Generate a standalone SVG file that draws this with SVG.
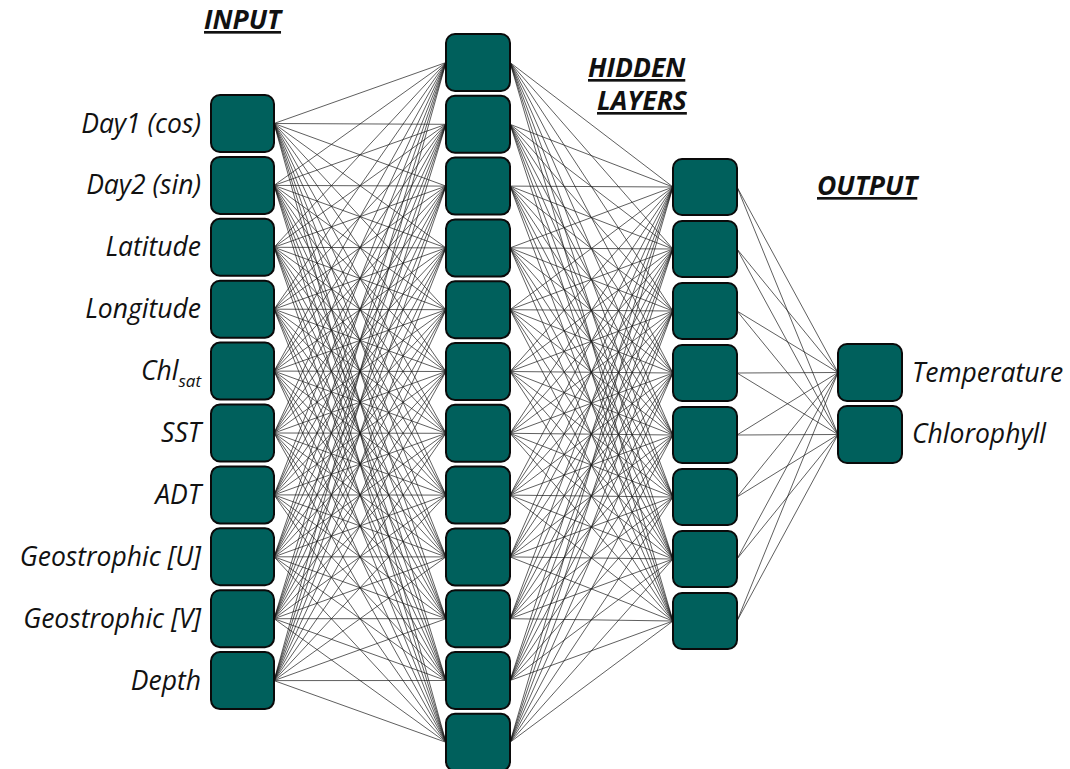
<svg xmlns="http://www.w3.org/2000/svg" width="1070" height="769" viewBox="0 0 1070 769">
<style>
.n{fill:#00605C;stroke:#0a0a0a;stroke-width:2}
.c{fill:none;stroke:#1a1a1a;stroke-width:0.7}
.l{font-family:"Open Sans","Liberation Sans",sans-serif;font-style:italic;font-size:26.5px;fill:#111}
.le{text-anchor:end}
.h{font-family:"Open Sans","Liberation Sans",sans-serif;font-style:italic;font-weight:bold;font-size:26.5px;fill:#111;text-decoration:underline}
</style>
<rect width="1070" height="769" fill="#fff"/>
<g id="connectors" class="c">
<path d="M274 123.5L446 62.5M274 123.5L446 124.3M274 123.5L446 186.1M274 123.5L446 247.9M274 123.5L446 309.7M274 123.5L446 371.5M274 123.5L446 433.3M274 123.5L446 495.1M274 123.5L446 556.9M274 123.5L446 618.7M274 123.5L446 680.5M274 123.5L446 742.3"/>
<path d="M274 185.4L446 62.5M274 185.4L446 124.3M274 185.4L446 186.1M274 185.4L446 247.9M274 185.4L446 309.7M274 185.4L446 371.5M274 185.4L446 433.3M274 185.4L446 495.1M274 185.4L446 556.9M274 185.4L446 618.7M274 185.4L446 680.5M274 185.4L446 742.3"/>
<path d="M274 247.3L446 62.5M274 247.3L446 124.3M274 247.3L446 186.1M274 247.3L446 247.9M274 247.3L446 309.7M274 247.3L446 371.5M274 247.3L446 433.3M274 247.3L446 495.1M274 247.3L446 556.9M274 247.3L446 618.7M274 247.3L446 680.5M274 247.3L446 742.3"/>
<path d="M274 309.2L446 62.5M274 309.2L446 124.3M274 309.2L446 186.1M274 309.2L446 247.9M274 309.2L446 309.7M274 309.2L446 371.5M274 309.2L446 433.3M274 309.2L446 495.1M274 309.2L446 556.9M274 309.2L446 618.7M274 309.2L446 680.5M274 309.2L446 742.3"/>
<path d="M274 371.1L446 62.5M274 371.1L446 124.3M274 371.1L446 186.1M274 371.1L446 247.9M274 371.1L446 309.7M274 371.1L446 371.5M274 371.1L446 433.3M274 371.1L446 495.1M274 371.1L446 556.9M274 371.1L446 618.7M274 371.1L446 680.5M274 371.1L446 742.3"/>
<path d="M274 433L446 62.5M274 433L446 124.3M274 433L446 186.1M274 433L446 247.9M274 433L446 309.7M274 433L446 371.5M274 433L446 433.3M274 433L446 495.1M274 433L446 556.9M274 433L446 618.7M274 433L446 680.5M274 433L446 742.3"/>
<path d="M274 494.9L446 62.5M274 494.9L446 124.3M274 494.9L446 186.1M274 494.9L446 247.9M274 494.9L446 309.7M274 494.9L446 371.5M274 494.9L446 433.3M274 494.9L446 495.1M274 494.9L446 556.9M274 494.9L446 618.7M274 494.9L446 680.5M274 494.9L446 742.3"/>
<path d="M274 556.8L446 62.5M274 556.8L446 124.3M274 556.8L446 186.1M274 556.8L446 247.9M274 556.8L446 309.7M274 556.8L446 371.5M274 556.8L446 433.3M274 556.8L446 495.1M274 556.8L446 556.9M274 556.8L446 618.7M274 556.8L446 680.5M274 556.8L446 742.3"/>
<path d="M274 618.7L446 62.5M274 618.7L446 124.3M274 618.7L446 186.1M274 618.7L446 247.9M274 618.7L446 309.7M274 618.7L446 371.5M274 618.7L446 433.3M274 618.7L446 495.1M274 618.7L446 556.9M274 618.7L446 618.7M274 618.7L446 680.5M274 618.7L446 742.3"/>
<path d="M274 680.6L446 62.5M274 680.6L446 124.3M274 680.6L446 186.1M274 680.6L446 247.9M274 680.6L446 309.7M274 680.6L446 371.5M274 680.6L446 433.3M274 680.6L446 495.1M274 680.6L446 556.9M274 680.6L446 618.7M274 680.6L446 680.5M274 680.6L446 742.3"/>
<path d="M510 62.5L673 187M510 62.5L673 249M510 62.5L673 311M510 62.5L673 373M510 62.5L673 435M510 62.5L673 497M510 62.5L673 559M510 62.5L673 621"/>
<path d="M510 124.3L673 187M510 124.3L673 249M510 124.3L673 311M510 124.3L673 373M510 124.3L673 435M510 124.3L673 497M510 124.3L673 559M510 124.3L673 621"/>
<path d="M510 186.1L673 187M510 186.1L673 249M510 186.1L673 311M510 186.1L673 373M510 186.1L673 435M510 186.1L673 497M510 186.1L673 559M510 186.1L673 621"/>
<path d="M510 247.9L673 187M510 247.9L673 249M510 247.9L673 311M510 247.9L673 373M510 247.9L673 435M510 247.9L673 497M510 247.9L673 559M510 247.9L673 621"/>
<path d="M510 309.7L673 187M510 309.7L673 249M510 309.7L673 311M510 309.7L673 373M510 309.7L673 435M510 309.7L673 497M510 309.7L673 559M510 309.7L673 621"/>
<path d="M510 371.5L673 187M510 371.5L673 249M510 371.5L673 311M510 371.5L673 373M510 371.5L673 435M510 371.5L673 497M510 371.5L673 559M510 371.5L673 621"/>
<path d="M510 433.3L673 187M510 433.3L673 249M510 433.3L673 311M510 433.3L673 373M510 433.3L673 435M510 433.3L673 497M510 433.3L673 559M510 433.3L673 621"/>
<path d="M510 495.1L673 187M510 495.1L673 249M510 495.1L673 311M510 495.1L673 373M510 495.1L673 435M510 495.1L673 497M510 495.1L673 559M510 495.1L673 621"/>
<path d="M510 556.9L673 187M510 556.9L673 249M510 556.9L673 311M510 556.9L673 373M510 556.9L673 435M510 556.9L673 497M510 556.9L673 559M510 556.9L673 621"/>
<path d="M510 618.7L673 187M510 618.7L673 249M510 618.7L673 311M510 618.7L673 373M510 618.7L673 435M510 618.7L673 497M510 618.7L673 559M510 618.7L673 621"/>
<path d="M510 680.5L673 187M510 680.5L673 249M510 680.5L673 311M510 680.5L673 373M510 680.5L673 435M510 680.5L673 497M510 680.5L673 559M510 680.5L673 621"/>
<path d="M510 742.3L673 187M510 742.3L673 249M510 742.3L673 311M510 742.3L673 373M510 742.3L673 435M510 742.3L673 497M510 742.3L673 559M510 742.3L673 621"/>
<path d="M737 187L838 372.5M737 187L838 434.5M737 249L838 372.5M737 249L838 434.5M737 311L838 372.5M737 311L838 434.5M737 373L838 372.5M737 373L838 434.5M737 435L838 372.5M737 435L838 434.5M737 497L838 372.5M737 497L838 434.5M737 559L838 372.5M737 559L838 434.5M737 621L838 372.5M737 621L838 434.5"/>
</g>
<g id="titles">
<text class="h" x="204" y="29">INPUT</text>
<text class="h" x="588" y="77">HIDDEN</text>
<text class="h" x="597" y="110">LAYERS</text>
<text class="h" x="817" y="195">OUTPUT</text>
</g>
<g id="in1"><rect class="n" x="211" y="95" width="63" height="57" rx="9"/><text class="l le" x="201" y="132.5">Day1 (cos)</text></g>
<g id="in2"><rect class="n" x="211" y="156.9" width="63" height="57" rx="9"/><text class="l le" x="201" y="194.4">Day2 (sin)</text></g>
<g id="in3"><rect class="n" x="211" y="218.8" width="63" height="57" rx="9"/><text class="l le" x="201" y="256.3">Latitude</text></g>
<g id="in4"><rect class="n" x="211" y="280.7" width="63" height="57" rx="9"/><text class="l le" x="201" y="318.2">Longitude</text></g>
<g id="in5"><rect class="n" x="211" y="342.6" width="63" height="57" rx="9"/><text class="l le" x="201" y="380.1">Chl<tspan font-size="17" dy="7">sat</tspan></text></g>
<g id="in6"><rect class="n" x="211" y="404.5" width="63" height="57" rx="9"/><text class="l le" x="201" y="442">SST</text></g>
<g id="in7"><rect class="n" x="211" y="466.4" width="63" height="57" rx="9"/><text class="l le" x="201" y="503.9">ADT</text></g>
<g id="in8"><rect class="n" x="211" y="528.3" width="63" height="57" rx="9"/><text class="l le" x="201" y="565.8">Geostrophic [U]</text></g>
<g id="in9"><rect class="n" x="211" y="590.2" width="63" height="57" rx="9"/><text class="l le" x="201" y="627.7">Geostrophic [V]</text></g>
<g id="in10"><rect class="n" x="211" y="652.1" width="63" height="57" rx="9"/><text class="l le" x="201" y="689.6">Depth</text></g>
<g id="h1_1"><rect class="n" x="446" y="34" width="64" height="57" rx="9"/></g>
<g id="h1_2"><rect class="n" x="446" y="95.8" width="64" height="57" rx="9"/></g>
<g id="h1_3"><rect class="n" x="446" y="157.6" width="64" height="57" rx="9"/></g>
<g id="h1_4"><rect class="n" x="446" y="219.4" width="64" height="57" rx="9"/></g>
<g id="h1_5"><rect class="n" x="446" y="281.2" width="64" height="57" rx="9"/></g>
<g id="h1_6"><rect class="n" x="446" y="343" width="64" height="57" rx="9"/></g>
<g id="h1_7"><rect class="n" x="446" y="404.8" width="64" height="57" rx="9"/></g>
<g id="h1_8"><rect class="n" x="446" y="466.6" width="64" height="57" rx="9"/></g>
<g id="h1_9"><rect class="n" x="446" y="528.4" width="64" height="57" rx="9"/></g>
<g id="h1_10"><rect class="n" x="446" y="590.2" width="64" height="57" rx="9"/></g>
<g id="h1_11"><rect class="n" x="446" y="652" width="64" height="57" rx="9"/></g>
<g id="h1_12"><rect class="n" x="446" y="713.8" width="64" height="57" rx="9"/></g>
<g id="h2_1"><rect class="n" x="673" y="159" width="64" height="56" rx="9"/></g>
<g id="h2_2"><rect class="n" x="673" y="221" width="64" height="56" rx="9"/></g>
<g id="h2_3"><rect class="n" x="673" y="283" width="64" height="56" rx="9"/></g>
<g id="h2_4"><rect class="n" x="673" y="345" width="64" height="56" rx="9"/></g>
<g id="h2_5"><rect class="n" x="673" y="407" width="64" height="56" rx="9"/></g>
<g id="h2_6"><rect class="n" x="673" y="469" width="64" height="56" rx="9"/></g>
<g id="h2_7"><rect class="n" x="673" y="531" width="64" height="56" rx="9"/></g>
<g id="h2_8"><rect class="n" x="673" y="593" width="64" height="56" rx="9"/></g>
<g id="out1"><rect class="n" x="838" y="344" width="64" height="57" rx="9"/><text class="l" x="912" y="382">Temperature</text></g>
<g id="out2"><rect class="n" x="838" y="406" width="64" height="57" rx="9"/><text class="l" x="912" y="443">Chlorophyll</text></g>
</svg>
